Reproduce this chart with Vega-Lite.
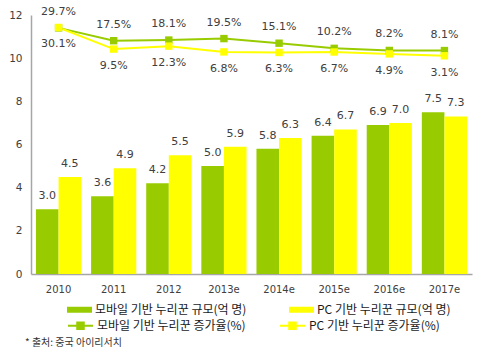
{
  "$schema": "https://vega.github.io/schema/vega-lite/v6.json",
  "width": 441,
  "height": 259,
  "autosize": {"type": "none"},
  "padding": {"left": 31, "top": 15, "right": 28, "bottom": 90},
  "background": "white",
  "config": {
    "view": {"stroke": null},
    "font": "DejaVu Sans",
    "axis": {"labelColor": "#404040", "labelFontSize": 10, "domainColor": "#a6a6a6", "domainWidth": 1.5, "ticks": false, "grid": false, "title": null},
    "legend": {"padding": 0, "labelFont": "Noto Sans CJK KR", "labelFontSize": 12, "labelColor": "#1a1a1a", "title": null}
  },
  "title": {"text": "* 출처: 중국 아이리서치", "orient": "bottom", "anchor": "start", "frame": "group", "font": "Noto Sans CJK KR", "fontSize": 10, "fontWeight": "normal", "color": "#333333", "dx": -6, "offset": 5},
  "datasets": {
    "bars": [
      {"year": "2010", "series": "모바일 기반 누리꾼 규모(억 명)", "value": 3.0},
      {"year": "2010", "series": "PC 기반 누리꾼 규모(억 명)", "value": 4.5},
      {"year": "2011", "series": "모바일 기반 누리꾼 규모(억 명)", "value": 3.6},
      {"year": "2011", "series": "PC 기반 누리꾼 규모(억 명)", "value": 4.9},
      {"year": "2012", "series": "모바일 기반 누리꾼 규모(억 명)", "value": 4.2},
      {"year": "2012", "series": "PC 기반 누리꾼 규모(억 명)", "value": 5.5},
      {"year": "2013e", "series": "모바일 기반 누리꾼 규모(억 명)", "value": 5.0},
      {"year": "2013e", "series": "PC 기반 누리꾼 규모(억 명)", "value": 5.9},
      {"year": "2014e", "series": "모바일 기반 누리꾼 규모(억 명)", "value": 5.8},
      {"year": "2014e", "series": "PC 기반 누리꾼 규모(억 명)", "value": 6.3},
      {"year": "2015e", "series": "모바일 기반 누리꾼 규모(억 명)", "value": 6.4},
      {"year": "2015e", "series": "PC 기반 누리꾼 규모(억 명)", "value": 6.7},
      {"year": "2016e", "series": "모바일 기반 누리꾼 규모(억 명)", "value": 6.9},
      {"year": "2016e", "series": "PC 기반 누리꾼 규모(억 명)", "value": 7.0},
      {"year": "2017e", "series": "모바일 기반 누리꾼 규모(억 명)", "value": 7.5},
      {"year": "2017e", "series": "PC 기반 누리꾼 규모(억 명)", "value": 7.3}
    ],
    "lines": [
      {"year": "2010", "series": "모바일 기반 누리꾼 증가율(%)", "pct": 29.7},
      {"year": "2011", "series": "모바일 기반 누리꾼 증가율(%)", "pct": 17.5},
      {"year": "2012", "series": "모바일 기반 누리꾼 증가율(%)", "pct": 18.1},
      {"year": "2013e", "series": "모바일 기반 누리꾼 증가율(%)", "pct": 19.5},
      {"year": "2014e", "series": "모바일 기반 누리꾼 증가율(%)", "pct": 15.1},
      {"year": "2015e", "series": "모바일 기반 누리꾼 증가율(%)", "pct": 10.2},
      {"year": "2016e", "series": "모바일 기반 누리꾼 증가율(%)", "pct": 8.2},
      {"year": "2017e", "series": "모바일 기반 누리꾼 증가율(%)", "pct": 8.1},
      {"year": "2010", "series": "PC 기반 누리꾼 증가율(%)", "pct": 30.1},
      {"year": "2011", "series": "PC 기반 누리꾼 증가율(%)", "pct": 9.5},
      {"year": "2012", "series": "PC 기반 누리꾼 증가율(%)", "pct": 12.3},
      {"year": "2013e", "series": "PC 기반 누리꾼 증가율(%)", "pct": 6.8},
      {"year": "2014e", "series": "PC 기반 누리꾼 증가율(%)", "pct": 6.3},
      {"year": "2015e", "series": "PC 기반 누리꾼 증가율(%)", "pct": 6.7},
      {"year": "2016e", "series": "PC 기반 누리꾼 증가율(%)", "pct": 4.9},
      {"year": "2017e", "series": "PC 기반 누리꾼 증가율(%)", "pct": 3.1}
    ]
  },
  "encoding": {
    "x": {"field": "year", "type": "nominal", "sort": ["2010","2011","2012","2013e","2014e","2015e","2016e","2017e"],
      "scale": {"paddingInner": 0.18, "paddingOuter": 0.09},
      "axis": {"labelAngle": 0, "labelPadding": 10, "labelFontSize": 10}}
  },
  "layer": [
    {
      "data": {"name": "bars"},
      "encoding": {
        "y": {"field": "value", "type": "quantitative", "scale": {"domain": [0, 12], "nice": false},
          "axis": {"values": [0, 2, 4, 6, 8, 10, 12], "labelPadding": 9, "labelFontSize": 10.5}},
        "xOffset": {"field": "series", "type": "nominal", "scale": {"domain": ["모바일 기반 누리꾼 규모(억 명)", "PC 기반 누리꾼 규모(억 명)"], "paddingInner": 0, "paddingOuter": 0}}
      },
      "layer": [
        {
          "mark": {"type": "bar"},
          "encoding": {
            "fill": {"field": "series", "type": "nominal",
              "scale": {"domain": ["모바일 기반 누리꾼 규모(억 명)", "PC 기반 누리꾼 규모(억 명)"], "range": ["#99cc00", "#ffff00"]},
              "legend": {"orient": "none", "legendX": 36, "legendY": 282, "direction": "horizontal", "columnPadding": 42, "labelOffset": 3,
                "symbolType": "M-1,-0.24H1V0.24H-1Z", "symbolSize": 625, "symbolStrokeWidth": 0, "symbolOpacity": 1, "labelLimit": 300}}
          }
        },
        {
          "mark": {"type": "text", "baseline": "bottom", "dy": -8, "fontSize": 11, "color": "#404040"},
          "encoding": {"text": {"field": "value", "type": "quantitative", "format": ".1f"}}
        }
      ]
    },
    {
      "data": {"name": "lines"},
      "encoding": {
        "y": {"field": "pct", "type": "quantitative", "scale": {"domain": [-205, 42], "nice": false, "zero": false}, "axis": null}
      },
      "layer": [
        {
          "mark": {"type": "line", "strokeWidth": 2},
          "encoding": {
            "color": {"field": "series", "type": "nominal",
              "scale": {"domain": ["모바일 기반 누리꾼 증가율(%)", "PC 기반 누리꾼 증가율(%)"], "range": ["#99cc00", "#ffff00"]},
              "legend": {"orient": "none", "legendX": 36, "legendY": 297, "direction": "horizontal", "columnPadding": 30, "labelOffset": 3,
                "symbolType": "M-1,0H1M-0.26,-0.26H0.26V0.26H-0.26Z", "symbolSize": 625, "symbolStrokeWidth": 2, "labelLimit": 300,
                "encode": {"symbols": {"update": {"fill": {"scale": "color", "field": "value"}, "fillOpacity": {"value": 1}}}}}}
          }
        },
        {
          "mark": {"type": "point", "shape": "square", "filled": true, "size": 55, "opacity": 1},
          "encoding": {
            "color": {"field": "series", "type": "nominal"}
          }
        },
        {
          "transform": [{"filter": "datum.series == '모바일 기반 누리꾼 증가율(%)'"}],
          "mark": {"type": "text", "baseline": "bottom", "dy": -11, "fontSize": 11, "color": "#404040", "text": {"expr": "format(datum.pct, '.1f') + '%'"}}
        },
        {
          "transform": [{"filter": "datum.series == 'PC 기반 누리꾼 증가율(%)'"}],
          "mark": {"type": "text", "baseline": "top", "dy": 11, "fontSize": 11, "color": "#404040", "text": {"expr": "format(datum.pct, '.1f') + '%'"}}
        }
      ]
    }
  ],
  "resolve": {"scale": {"y": "independent"}}
}
